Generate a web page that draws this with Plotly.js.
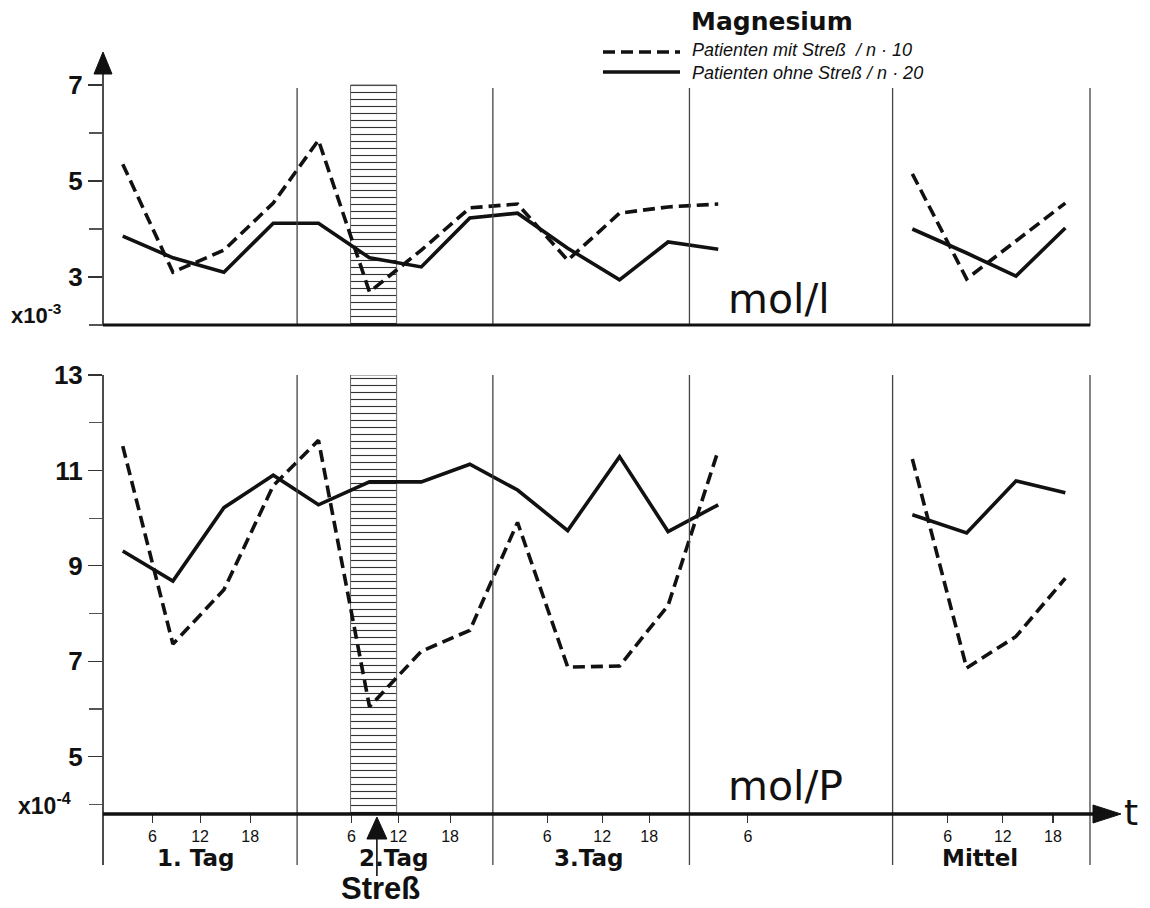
<!DOCTYPE html>
<html><head><meta charset="utf-8">
<script src="https://cdn.plot.ly/plotly-3.0.1.min.js"></script>
<style>html,body{margin:0;padding:0;background:#fff}#chart{width:1150px;height:908px}</style>
</head><body><div id="chart"></div>
<script>
// ---- data (hours since start of day 1; "Mittel" block after 96 h) ----
const hours = [2.4, 8.5, 14.7, 20.7, 26.2, 32.4, 38.7, 44.6, 50.4, 56.5, 62.8, 68.7, 74.8];
const meanHours = [98.4, 105.0, 111.0, 117.0];
// Serum magnesium, x10^-3 mol/l
const serumStress      = [5.35, 3.10, 3.56, 4.54, 5.85, 2.69, 3.56, 4.44, 4.52, 3.35, 4.33, 4.46, 4.52];
const serumNoStress    = [3.85, 3.40, 3.10, 4.12, 4.12, 3.40, 3.21, 4.23, 4.33, 3.60, 2.94, 3.73, 3.58];
const serumStressMean  = [5.15, 2.96, 3.75, 4.54];
const serumNoStressMean= [4.00, 3.50, 3.02, 4.02];
// Urinary magnesium, x10^-4 mol/P
const urineStress      = [11.51, 7.36, 8.50, 10.68, 11.63, 6.05, 7.21, 7.65, 9.91, 6.88, 6.90, 8.17, 11.42];
const urineNoStress    = [9.31, 8.68, 10.22, 10.90, 10.28, 10.76, 10.76, 11.13, 10.59, 9.74, 11.29, 9.72, 10.28];
const urineStressMean  = [11.24, 6.86, 7.52, 8.74];
const urineNoStressMean= [10.07, 9.69, 10.78, 10.53];
// axis annotation
const tickHours  = [6, 11.8, 17.9, 30.2, 35.9, 42.2, 54.0, 60.7, 66.4, 78.4, 102.7, 109.4, 115.5];
const tickLabels = ['6','12','18','6','12','18','6','12','18','6','6','12','18'];
const dayLabels     = ['1. Tag', '2.Tag', '3.Tag', 'Mittel'];
const dayLabelHours = [11.3, 35.3, 59.0, 106.6];
const dayEdges = [0, 23.6, 47.4, 71.3, 96, 120];
const stressWindow = [30.1, 35.7];
const stressHour = 33.3;
const legendNames = ['Patienten mit Streß  / n · 10', 'Patienten ohne Streß / n · 20'];

// ---- geometry helpers (plot area 103..1090 x 40..814 px) ----
const L = 103, R = 1090, T = 40, B = 814;
const X = px => (px - L) / (R - L);
const Y = py => (B - py) / (B - T);
const HX = h => h / 120;

const BLACK = '#111';
function lineTrace(xs, ys, xa, ya, dashed) {
  return {type: 'scatter', mode: 'lines', x: xs, y: ys, xaxis: xa, yaxis: ya,
    line: {color: BLACK, width: 3.6, dash: dashed ? '12px,6px' : 'solid'},
    hoverinfo: 'skip', showlegend: false, connectgaps: false};
}
const xAll = hours.concat([null], meanHours);
const join = (a, b) => a.concat([null], b);

const hatch = (xa, ya, base, top) => ({
  type: 'bar', x: [(stressWindow[0] + stressWindow[1]) / 2], width: [stressWindow[1] - stressWindow[0]],
  base: [base], y: [top - base], xaxis: xa, yaxis: ya, hoverinfo: 'skip', showlegend: false,
  marker: {color: '#fff', line: {color: '#666', width: 1},
    pattern: {shape: '-', size: 7, solidity: 0.16, fgcolor: '#333', bgcolor: '#fff', fillmode: 'replace'}}
});

const traces = [
  hatch('x2', 'y2', 2, 7),
  hatch('x', 'y', 3.8, 13),
  lineTrace(xAll, join(serumNoStress, serumNoStressMean), 'x2', 'y2', false),
  lineTrace(xAll, join(serumStress, serumStressMean), 'x2', 'y2', true),
  lineTrace(xAll, join(urineNoStress, urineNoStressMean), 'x', 'y', false),
  lineTrace(xAll, join(urineStress, urineStressMean), 'x', 'y', true)
];

// ---- shapes ----
const shapes = [];
const seg = (x0, y0, x1, y1, w, c, dash) => shapes.push({type: 'line', xref: 'paper', yref: 'paper',
  x0, y0, x1, y1, line: {color: c || BLACK, width: w, dash: dash || 'solid'}});
const tri = (path) => shapes.push({type: 'path', xref: 'paper', yref: 'paper', path,
  fillcolor: BLACK, line: {color: BLACK, width: 1}});

// day separators
dayEdges.forEach((h, i) => {
  if (i === 0) return;
  seg(HX(h), Y(88), HX(h), Y(326), 1.3, '#444');
  seg(HX(h), Y(375), HX(h), Y(865), 1.3, '#444');
});
// y axes
seg(0, Y(326), 0, Y(70), 1.5);
tri(`M ${X(103)} ${Y(52)} L ${X(94)} ${Y(74)} L ${X(112)} ${Y(74)} Z`);
seg(0, Y(375), 0, Y(865), 1.5);
// x axes (thick)
seg(0, Y(325), 1, Y(325), 3.2);
seg(0, Y(814), X(1096), Y(814), 3.6);
tri(`M ${X(1121)} ${Y(814)} L ${X(1093)} ${Y(805)} L ${X(1093)} ${Y(823)} Z`);
// stress arrow
const sx = X(L + stressHour * (R - L) / 120);
tri(`M ${sx} ${Y(817)} L ${sx - X(113)} ${Y(839)} L ${sx + X(113)} ${Y(839)} Z`);
seg(sx, Y(838), sx, Y(876), 1.6);
// legend samples
seg(X(603), Y(52), X(680), Y(52), 3.6, BLACK, '12px,6px');
seg(X(603), Y(72), X(680), Y(72), 3.6, BLACK);

// ---- annotations ----
const ann = [];
const txt = (text, xp, yp, font, xanchor) => ann.push({text, x: xp, y: yp, xref: 'paper', yref: 'paper',
  showarrow: false, xanchor: xanchor || 'center', yanchor: 'middle', font});
const helvB = {family: 'Liberation Sans, Arial, sans-serif', weight: 'bold', color: BLACK};
txt('Magnesium', X(772), Y(21), {family: 'DejaVu Sans, sans-serif', weight: 'bold', size: 25, color: BLACK});
txt(legendNames[0], X(690), Y(50), {family: 'Liberation Sans Narrow, Liberation Sans, sans-serif', style: 'italic', size: 18, color: BLACK}, 'left');
txt(legendNames[1], X(690), Y(73), {family: 'Liberation Sans Narrow, Liberation Sans, sans-serif', style: 'italic', size: 18, color: BLACK}, 'left');
txt('mol/l', X(779), Y(299), {family: 'DejaVu Sans, sans-serif', size: 41, color: BLACK});
txt('mol/P', X(785), Y(786), {family: 'DejaVu Sans, sans-serif', size: 41, color: BLACK});
txt('x10<sup>-3</sup>', X(9), Y(314), Object.assign({}, helvB, {size: 22}), 'left');
txt('x10<sup>-4</sup>', X(16), Y(804), Object.assign({}, helvB, {size: 23}), 'left');
dayLabels.forEach((d, i) => txt(d, HX(dayLabelHours[i]), Y(858), {family: 'DejaVu Sans, sans-serif', weight: 'bold', size: 23, color: BLACK}));
txt('Streß', X(380), Y(888), {family: 'Liberation Sans Narrow, Liberation Sans, sans-serif', weight: 'bold', size: 31, color: BLACK});
txt('t', X(1131), Y(812), {family: 'DejaVu Sans, sans-serif', size: 36, color: BLACK});

const yCommon = {showgrid: false, zeroline: false, showline: false, tickmode: 'linear', tick0: 1, dtick: 2,
  ticks: 'outside', ticklen: 14, tickwidth: 1.2, tickcolor: '#333',
  tickfont: {family: 'Liberation Sans, Arial, sans-serif', weight: 'bold', size: 26, color: BLACK},
  minor: {ticks: 'outside', ticklen: 13, tickwidth: 1.1, tickcolor: '#555', dtick: 1, tick0: 0, showgrid: false}};

const layout = {
  width: 1150, height: 908, margin: {l: L, r: 1150 - R, t: T, b: 908 - B},
  paper_bgcolor: '#fff', plot_bgcolor: 'rgba(0,0,0,0)', showlegend: false, hovermode: false,
  bargap: 0,
  xaxis: {domain: [0, 1], range: [0, 120], anchor: 'y', showgrid: false, zeroline: false, showline: false,
    tickmode: 'array', tickvals: tickHours, ticktext: tickLabels, ticks: 'outside', ticklen: 8, tickwidth: 1.1,
    tickcolor: '#333', tickfont: {family: 'Liberation Sans, Arial, sans-serif', size: 16, color: BLACK}},
  xaxis2: {domain: [0, 1], range: [0, 120], anchor: 'y2', matches: 'x', showgrid: false, zeroline: false,
    showline: false, showticklabels: false, ticks: ''},
  yaxis: Object.assign({}, yCommon, {domain: [0, Y(375)], range: [3.8, 13], anchor: 'x'}),
  yaxis2: Object.assign({}, yCommon, {domain: [Y(325), 1], range: [2, 2 + (325 - 40) / 48], anchor: 'x2'}),
  shapes, annotations: ann
};

Plotly.newPlot('chart', traces, layout, {displayModeBar: false, staticPlot: true});
</script>
</body></html>
